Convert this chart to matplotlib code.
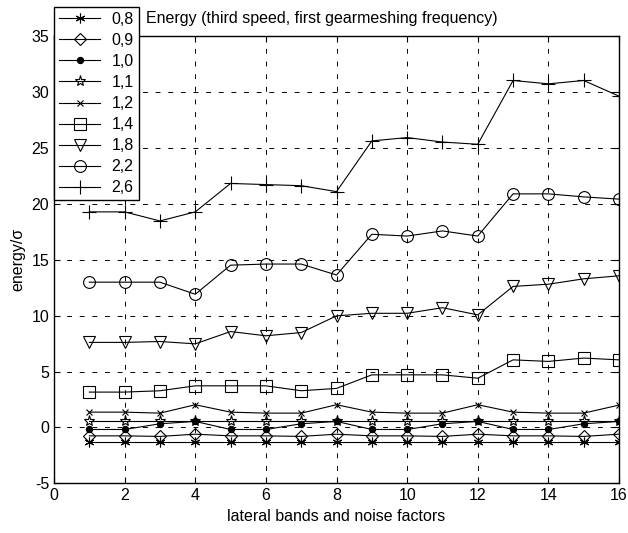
import numpy as np
import matplotlib.pyplot as plt

plt.rcParams['font.family'] = ['Liberation Sans', 'DejaVu Sans']
plt.rcParams['axes.unicode_minus'] = False

# data
x = np.arange(1, 17)
labels = ['0,8', '0,9', '1,0', '1,1', '1,2', '1,4', '1,8', '2,2', '2,6']
e08 = [-1.3] * 16
e09 = [-0.75, -0.75, -0.8, -0.6] * 4
e10 = [-0.18, -0.18, 0.33, 0.54] * 4
e11 = [0.6] * 16
e12 = [1.37, 1.37, 1.28, 2.03, 1.37, 1.28, 1.28, 2.03,
       1.37, 1.28, 1.28, 2.03, 1.37, 1.28, 1.28, 2.0]
e14 = [3.16, 3.16, 3.28, 3.72, 3.72, 3.72, 3.28, 3.49,
       4.7, 4.7, 4.7, 4.4, 6.04, 5.9, 6.2, 6.04]
e18 = [7.6, 7.6, 7.68, 7.47, 8.57, 8.19, 8.48, 9.97,
       10.2, 10.2, 10.7, 10.06, 12.6, 12.8, 13.28, 13.55]
e22 = [12.98, 12.98, 12.98, 11.9, 14.5, 14.6, 14.6, 13.62,
       17.26, 17.1, 17.56, 17.1, 20.87, 20.87, 20.6, 20.4]
e26 = [19.26, 19.26, 18.45, 19.26, 21.8, 21.7, 21.6, 21.07,
       25.6, 25.9, 25.5, 25.3, 31.0, 30.7, 31.0, 29.6]

series = [e08, e09, e10, e11, e12, e14, e18, e22, e26]
markers = [(6, 2, 0), 'D', 'o', '*', 'x', 's', 'v', 'o', '+']
msizes = [7, 6.5, 4.5, 8, 5, 8, 8.5, 8.5, 10]
filled = [True, False, True, False, True, False, False, False, True]

fig = plt.figure(figsize=(6.28, 5.33), dpi=100)
ax = fig.add_axes([0.086, 0.093, 0.8997, 0.84])

for y, lab, m, ms, f in zip(series, labels, markers, msizes, filled):
    ax.plot(x, y, color='black', lw=0.8, marker=m, markersize=ms,
            markerfacecolor='black' if f else 'none',
            markeredgecolor='black', markeredgewidth=0.8, label=lab)

ax.set_xlim(0, 16)
ax.set_ylim(-5, 35)
ax.set_xticks(range(0, 17, 2))
ax.set_yticks(range(-5, 36, 5))
ax.tick_params(direction='in', labelsize=11.5, length=4, top=True, right=True)
ax.grid(True, color='black', linestyle=(0, (5, 8)), linewidth=0.7)
for s in ax.spines.values():
    s.set_linewidth(1.0)

ax.set_xlabel('lateral bands and noise factors', fontsize=11.5)
ax.set_ylabel('energy/σ', fontsize=11.5)

fig.text(0.233, 0.965, 'Energy (third speed, first gearmeshing frequency)',
         fontsize=11.5, va='center', ha='left')

leg = ax.legend(loc='upper left', bbox_to_anchor=(0, 1.064), fontsize=11.5,
                frameon=True, fancybox=False, borderaxespad=0,
                handlelength=2.6, labelspacing=0.38, borderpad=0.3,
                handletextpad=0.7)
leg.get_frame().set_edgecolor('black')
leg.get_frame().set_linewidth(1.0)
leg.get_frame().set_alpha(1)

fig.savefig('out.png', dpi=100)
